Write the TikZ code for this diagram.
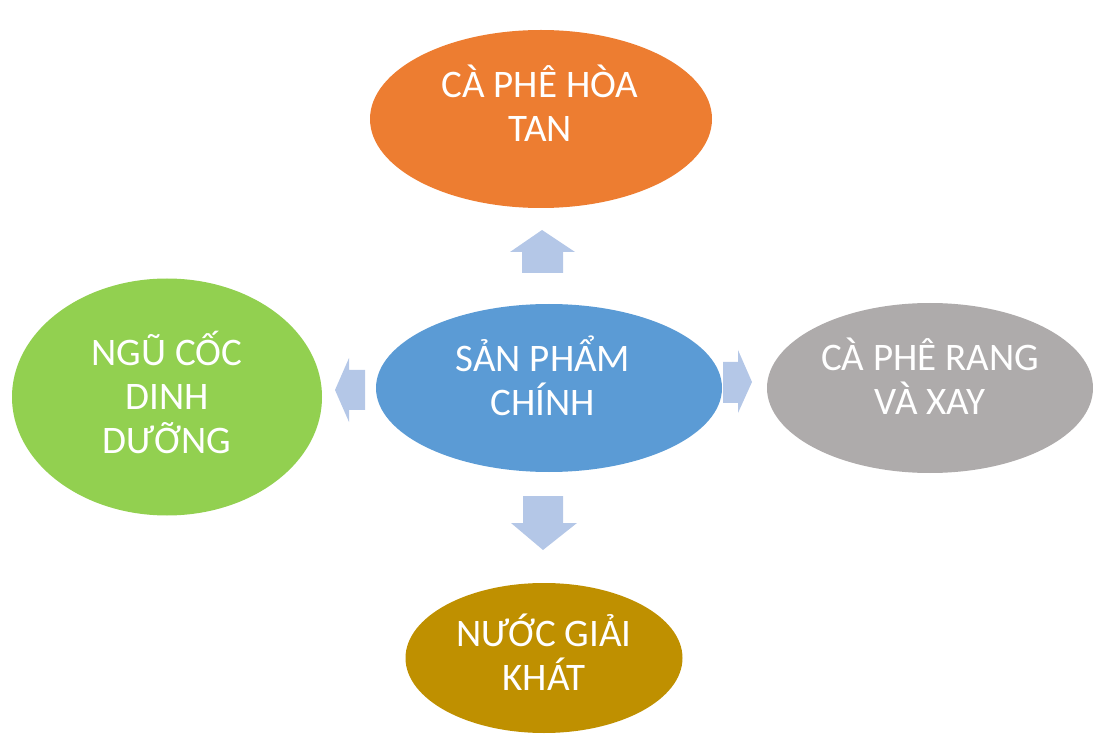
\documentclass[tikz,border=0pt]{standalone}
\usepackage{fontspec}
\setmainfont{Carlito}
\usetikzlibrary{shapes.geometric}
\definecolor{corange}{HTML}{ED7D31}
\definecolor{cblue}{HTML}{5B9BD5}
\definecolor{cgray}{HTML}{AEABAB}
\definecolor{cgreen}{HTML}{92D050}
\definecolor{cgold}{HTML}{BF9000}
\definecolor{carrow}{HTML}{B4C7E7}
\tikzset{
  blob/.style={ellipse, draw=none, inner sep=0pt},
  txt/.style={text=white, align=center, inner sep=0pt, font=\fontsize{39}{44}\selectfont, text depth=0pt},
  two/.style={txt, text height=68.7pt},
  three/.style={txt, text height=112.7pt},
  blockarrow/.style={fill=carrow, draw=none}
}
\begin{document}
\begin{tikzpicture}[x=1pt,y=-1pt]
\useasboundingbox (0,0) rectangle (1093,735);
% ellipses
\node[blob, fill=corange, minimum width=342pt, minimum height=178pt] (top) at (541,119) {};
\node[blob, fill=cblue, minimum width=346pt, minimum height=168pt] (mid) at (549,388) {};
\node[blob, fill=cgray, minimum width=326pt, minimum height=170pt] (right) at (930,388) {};
\node[blob, fill=cgreen, minimum width=310pt, minimum height=237pt] (left) at (167,397) {};
\node[blob, fill=cgold, minimum width=277pt, minimum height=150pt] (bottom) at (544,658) {};
% texts
\node[two] (ttop) at (540,107.5) {CÀ PHÊ HÒA\\TAN};
\node[two] (tmid) at (543,381.5) {SẢN PHẨM\\CHÍNH};
\node[two] (tright) at (930,380) {CÀ PHÊ RANG\\VÀ XAY};
\node[three] (tleft) at (167,397) {NGŨ CỐC\\DINH\\DƯỠNG};
\node[two] (tbottom) at (544,656.5) {NƯỚC GIẢI\\KHÁT};
% block arrows
\fill[blockarrow] (542,230) -- (575,252) -- (563,252) -- (563,273) -- (522,273) -- (522,252) -- (510,252) -- cycle;
\fill[blockarrow] (523,496) -- (563,496) -- (563,523) -- (577,523) -- (543,550) -- (511,523) -- (523,523) -- cycle;
\fill[blockarrow] (335,390) -- (349,358) -- (349,370) -- (365,370) -- (365,410) -- (349,410) -- (349,422) -- cycle;
\fill[blockarrow] (723,362) -- (738,362) -- (738,350) -- (752,382) -- (738,413) -- (738,403) -- (723,403) -- cycle;
\end{tikzpicture}
\end{document}
